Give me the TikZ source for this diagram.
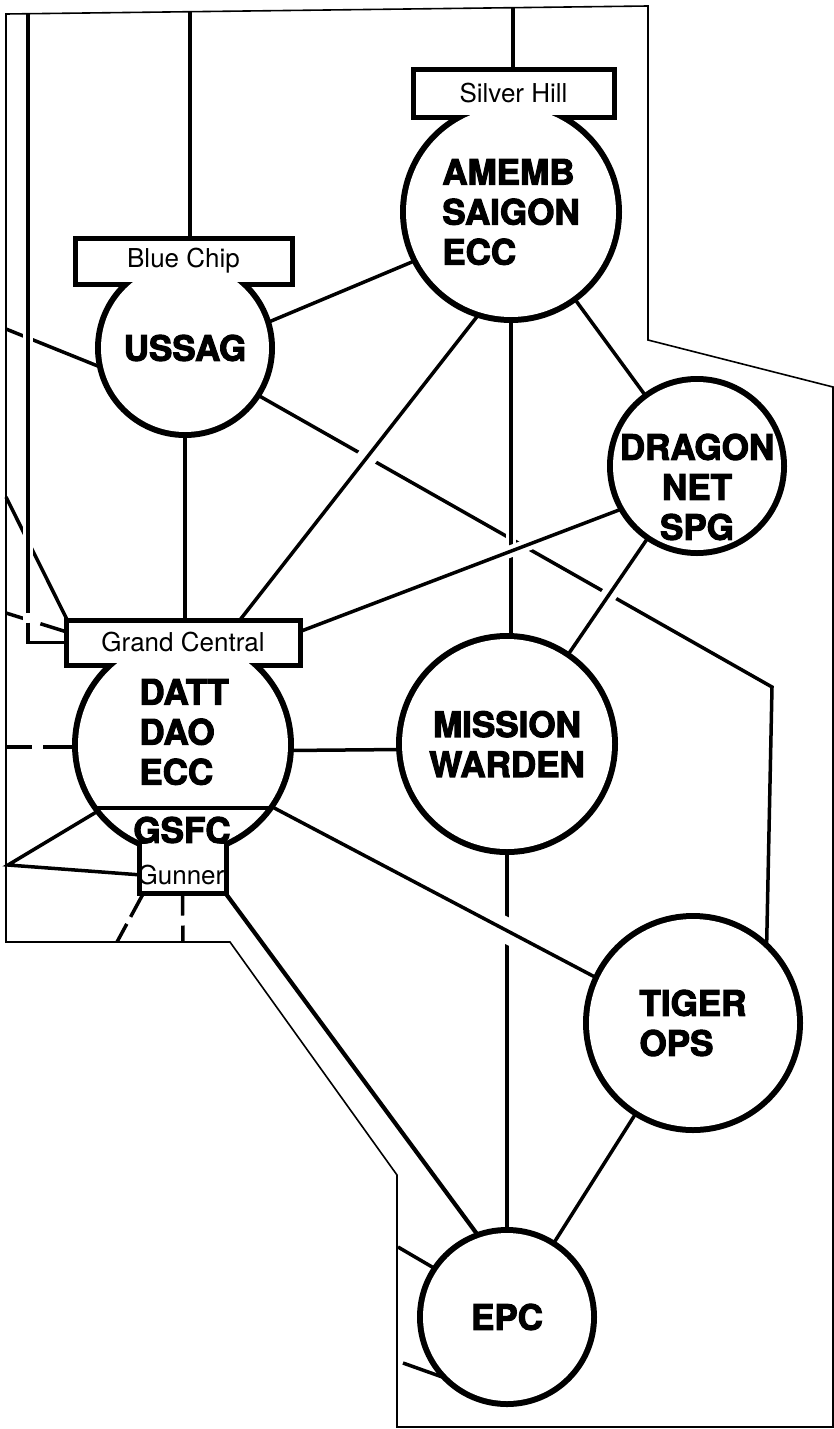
\documentclass[tikz,border=0pt]{standalone}
\usepackage{fontspec}
\setmainfont{TeX Gyre Heros}[BoldFeatures={FakeBold=3}]
\usetikzlibrary{backgrounds}
\begin{document}
\begin{tikzpicture}[x=1pt, y=-1pt,
    station/.style={circle, inner sep=0pt, outer sep=0pt, align=center,
      font=\fontsize{35}{40}\selectfont\bfseries},
    tag/.style={rectangle, inner sep=0pt, outer sep=0pt,
      font=\fontsize{26}{30}\selectfont},
    link/.style={line width=3.5pt},
    hop/.style={link, preaction={draw, white, solid, line width=#1}},
    hop/.default=14pt,
    edge/.style={line width=1.6pt}]
  \useasboundingbox (0,0) rectangle (834,1429);
  \begin{scope}[every node/.style={station}]
    \node [minimum size=210pt, align=left] (amemb) at (511,212)
      {AMEMB\\SAIGON\\ECC}; \node [minimum size=168pt] (ussag) at
    (185,348) {USSAG}; \node [minimum size=168pt] (dragon) at
    (697,466) {}; \node [minimum size=210pt] (gc) at (183,745) {};
    \node [minimum size=210pt] (mw) at (507,744) {MISSION\\WARDEN};
    \node [minimum size=208pt, align=left] (tiger) at (693,1023)
      {TIGER\\OPS}; \node [minimum size=168pt] (epc) at (507,1317)
      {EPC}; \node (dragontext) at (697,487) {DRAGON\\NET\\SPG};
    \node [align=left] (gctext) at (184,732) {DATT\\DAO\\ECC};
    \node (gsfc) at (182,830) {GSFC};
  \end{scope}
  \begin{scope}[every node/.style={tag}]
    \node [minimum width=196pt, minimum height=42pt] (silver) at
    (513.5,93.5) {Silver Hill}; \node [minimum width=212pt, minimum
      height=41pt] (bluechip) at (183.5,261) {Blue Chip}; \node
    [minimum width=229pt, minimum height=40pt] (gcbox) at (183,642.5)
      {Grand Central}; \node [minimum width=82pt, minimum height=47pt]
    (gunner) at (182.5,867) {}; \node (gunnertext) at (181,875)
      {Gunner};
  \end{scope}
  \coordinate (bctop) at (190,12); \coordinate (shtop) at (513,8.5);
  \coordinate (lvtop) at (28,13.5); \coordinate (ussagw) at (6,329);
  \coordinate (kink) at (772,687); \coordinate (gcnw) at (6,497);
  \coordinate (gcw) at (6,613); \coordinate (gcleft) at (6,747);
  \coordinate (gcsw) at (8,865); \coordinate (gb1) at (117,942);
  \coordinate (gb2) at (183,942); \coordinate (epcw1) at (398,1247);
  \coordinate (epcw2) at (403,1363);
  \begin{scope}[on background layer]
    \draw [link] (ussag.-33) -- (kink) -- (tiger.45); \draw [link]
    (ussag.194) -- (ussagw); \draw [link] (mw) -- (epc); \draw [link]
    (bctop) -- (bctop |- bluechip.north); \draw [link] (shtop) --
    (shtop |- silver.north); \draw [link] (ussag.17) -- (amemb.207);
    \draw [link] (ussag) -- (ussag |- gcbox.north); \draw [link]
    (amemb) -- (dragon); \draw [link] (gc.-3) -- (mw.183); \draw
    [link] (tiger) -- (epc); \draw [link, line width=4.2pt]
    (gunner.south east) -- (epc.109); \draw [link] (gc.218) -- (gcsw)
    -- (gunner.191); \draw [link, dash pattern=on 30pt off 8pt on
      40pt] (gunner.212) -- (gb1); \draw [link, dash pattern=on 25pt
      off 10pt on 40pt] (gunner.south) -- (gb2); \draw [link, dash
      pattern=on 26pt off 11pt on 50pt] (gcleft) -- (gcleft -|
    gc.west); \draw [link, dash pattern=on 20pt off 16pt on 50pt]
    (gcw) -- (gcbox.175); \draw [link] (gcbox.north west) -- (gcnw);
    \draw [link] (epcw1) -- (epc.146); \draw [link] (epcw2) --
    (epc.229);
    \draw [hop=10pt] (amemb) -- (amemb |- mw.north); \draw [hop=12pt]
    (dragon.210) -- (gcbox.5); \draw [hop=20pt] (amemb.253) --
    (gcbox.20); \draw [hop=16pt] (dragon) -- (mw); \draw [hop=25pt]
    (gc.-35) -- (tiger.155); \draw [hop=10pt, dash pattern=on 599pt
      off 10pt on 200pt] (lvtop) -- (lvtop |- gcbox.west) --
    (gcbox.west);
    \draw [edge] (6,14) -- (648,6) -- (648,340) -- (833,387) --
    (833,1427) -- (397,1427) -- (397,1175) -- (230,942) -- (6,942) --
    cycle;
    \foreach \n/\r in {amemb/105, ussag/84, gc/105, dragon/84, mw/105,
      tiger/104, epc/84} \draw [line width=12pt] (\n.center) circle
    [radius=\r pt]; \foreach \b in {silver, bluechip, gcbox, gunner}
    \draw [line width=10pt] (\b.south west) rectangle (\b.north east);
    \foreach \n/\r in {amemb/105, ussag/84, gc/105, dragon/84, mw/105,
      tiger/104, epc/84} \fill [white] (\n.center) circle [radius=\r
      pt]; \foreach \b in {silver, bluechip, gcbox, gunner} \fill
    [white] (\b.south west) rectangle (\b.north east);
    \draw [link] ([shift={(-87,63)}]gc.center) --
    ([shift={(87,63)}]gc.center);
  \end{scope}
\end{tikzpicture}
\end{document}
